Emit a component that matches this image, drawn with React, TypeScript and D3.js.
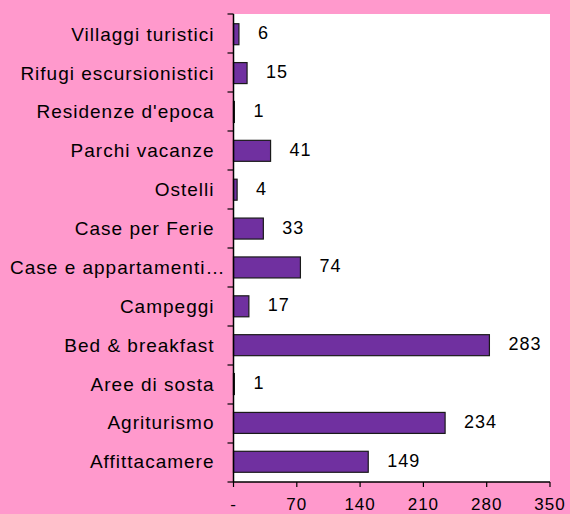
import React, { useEffect, useRef } from 'react';
import * as d3 from 'd3';

// categories listed bottom -> top as in the picture
const categories = [
  'Affittacamere',
  'Agriturismo',
  'Aree di sosta',
  'Bed & breakfast',
  'Campeggi',
  'Case e appartamenti…',
  'Case per Ferie',
  'Ostelli',
  'Parchi vacanze',
  "Residenze d'epoca",
  'Rifugi escursionistici',
  'Villaggi turistici'
];
const values = [149, 234, 1, 283, 17, 74, 33, 4, 41, 1, 15, 6];
const xTicks = [0, 70, 140, 210, 280, 350];

const PINK = '#FF99CC';
const PURPLE = '#7030A0';
const FONT = 'Liberation Sans, Arial, sans-serif';

const App = () => {
  const svgRef = useRef<SVGSVGElement | null>(null);

  useEffect(() => {
    const svg = d3.select(svgRef.current);
    svg.selectAll('*').remove();

    const width = 570;
    const height = 514;
    const margin = { top: 14, right: 20, bottom: 32, left: 233.5 };
    const innerWidth = width - margin.left - margin.right;
    const innerHeight = height - margin.top - margin.bottom;

    svg.append('rect').attr('width', width).attr('height', height).attr('fill', PINK);

    const g = svg.append('g').attr('transform', `translate(${margin.left},${margin.top})`);

    g.append('rect').attr('width', innerWidth).attr('height', innerHeight).attr('fill', '#fff');

    const x = d3.scaleLinear().domain([0, 350]).range([0, innerWidth]);
    const y = d3.scaleBand().domain([...categories].reverse()).range([0, innerHeight]).paddingInner(0.46).paddingOuter(0.25);
    const step = innerHeight / categories.length;

    const data = categories.map((c, i) => ({ cat: c, value: values[i] }));

    g.selectAll('rect.bar')
      .data(data)
      .enter()
      .append('rect')
      .attr('class', 'bar')
      .attr('x', 0)
      .attr('y', d => y(d.cat)!)
      .attr('width', d => x(d.value))
      .attr('height', y.bandwidth())
      .attr('fill', PURPLE)
      .attr('stroke', '#1a1a1a')
      .attr('stroke-width', 1.2);

    g.selectAll('text.val')
      .data(data)
      .enter()
      .append('text')
      .attr('class', 'val')
      .attr('x', d => x(d.value) + 19)
      .attr('y', d => y(d.cat)! + y.bandwidth() / 2 - 1)
      .attr('dominant-baseline', 'central')
      .style('font-family', FONT)
      .style('font-size', '18px')
      .style('letter-spacing', '1px')
      .style('fill', '#000')
      .text(d => d.value);

    // left axis: line + ticks at band boundaries
    g.append('line')
      .attr('x1', 0).attr('x2', 0).attr('y1', 0).attr('y2', innerHeight)
      .attr('stroke', '#000').attr('stroke-width', 1.5);
    d3.range(categories.length + 1).forEach(i => {
      g.append('line')
        .attr('x1', -6).attr('x2', 0).attr('y1', i * step).attr('y2', i * step)
        .attr('stroke', '#000').attr('stroke-width', 1.2);
    });

    g.selectAll('text.cat')
      .data(data)
      .enter()
      .append('text')
      .attr('class', 'cat')
      .attr('x', -19)
      .attr('y', d => y(d.cat)! + y.bandwidth() / 2)
      .attr('text-anchor', 'end')
      .attr('dominant-baseline', 'central')
      .style('font-family', FONT)
      .style('font-size', '19px')
      .style('letter-spacing', '1px')
      .style('fill', '#000')
      .text(d => d.cat)
      .each(function () {
        // long label overflows toward the axis, like the original
        const t = this as SVGTextElement;
        if (t.getComputedTextLength() > 205) {
          d3.select(t).attr('text-anchor', 'start').attr('x', 10 - margin.left);
        }
      });

    // bottom axis
    const xAxis = g.append('g').attr('transform', `translate(0,${innerHeight})`);
    xAxis.append('line')
      .attr('x1', 0).attr('x2', innerWidth).attr('y1', 0).attr('y2', 0)
      .attr('stroke', '#000').attr('stroke-width', 1.5);
    xTicks.forEach(t => {
      xAxis.append('line')
        .attr('x1', x(t)).attr('x2', x(t)).attr('y1', 0).attr('y2', 5)
        .attr('stroke', '#000').attr('stroke-width', 1.2);
      xAxis.append('text')
        .attr('x', x(t))
        .attr('y', 28)
        .attr('text-anchor', 'middle')
        .style('font-family', FONT)
        .style('font-size', '17px')
        .style('letter-spacing', '1px')
        .style('fill', '#000')
        .text(t === 0 ? '-' : t);
    });
  }, []);

  return (
    <svg
      ref={svgRef}
      width={570}
      height={514}
      style={{ position: 'absolute', left: 0, top: 0, display: 'block' }}
    />
  );
};

export default App;
